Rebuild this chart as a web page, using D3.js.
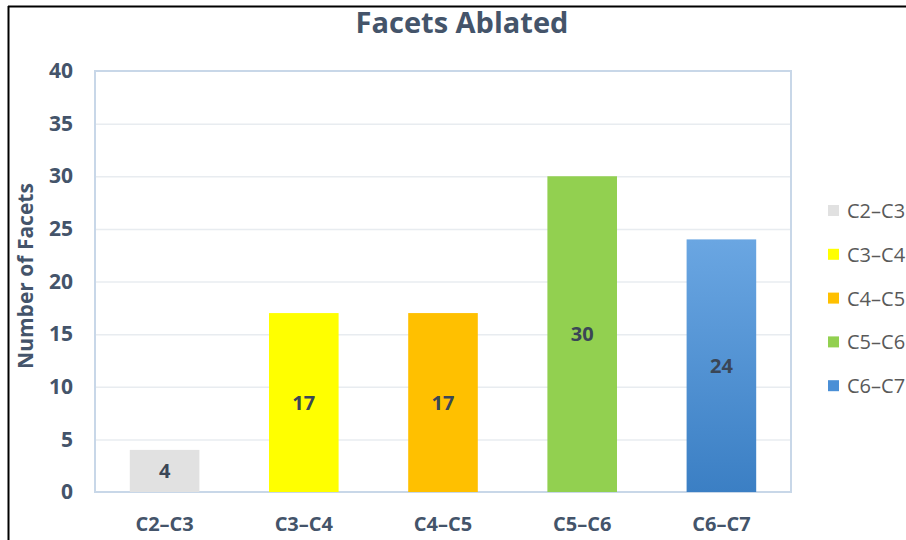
<!DOCTYPE html>
<html>
<head>
<meta charset="utf-8">
<script src="https://cdn.jsdelivr.net/npm/d3@7"></script>
<style>
  body { margin: 0; background: #fff; }
  svg { display: block; font-family: "Open Sans", Lato, sans-serif; }
</style>
</head>
<body>
<div id="chart"></div>
<script>
// chart data
const categories = ["C2\u2013C3", "C3\u2013C4", "C4\u2013C5", "C5\u2013C6", "C6\u2013C7"];
const facets = [4, 17, 17, 30, 24];
const yTicks = [0, 5, 10, 15, 20, 25, 30, 35, 40];

const colors = ["#e1e1e1", "#ffff00", "#ffc000", "#92d050", "url(#blueGrad)"];
const legendColors = ["#e1e1e1", "#ffff00", "#ffc000", "#92d050", "#4a8fd6"];

const width = 906, height = 540,
      margin = ({ top: 71, right: 115, bottom: 48, left: 95 });

let svg = d3.select("#chart")
    .append("svg")
    .attr("width", width)
    .attr("height", height);

// gradient for the last bar
let grad = svg.append("defs").append("linearGradient")
    .attr("id", "blueGrad")
    .attr("x1", 0).attr("y1", 0).attr("x2", 0).attr("y2", 1);
grad.append("stop").attr("offset", "0%").attr("stop-color", "#6aa6e2");
grad.append("stop").attr("offset", "100%").attr("stop-color", "#3b7fc4");

// outer frame lines (left & top)
svg.append("line").attr("x1", 8.5).attr("x2", 8.5).attr("y1", 6).attr("y2", height)
    .attr("stroke", "#000").attr("stroke-width", 2);
svg.append("line").attr("x1", 8).attr("x2", width).attr("y1", 6.5).attr("y2", 6.5)
    .attr("stroke", "#000").attr("stroke-width", 2);

let x = d3.scaleBand()
    .domain(categories)
    .range([margin.left, width - margin.right])
    .paddingInner(0.5)
    .paddingOuter(0.25);

let y = d3.scaleLinear()
    .domain([0, 40])
    .range([height - margin.bottom, margin.top]);

// gridlines
svg.append("g")
    .selectAll("line")
    .data(yTicks.filter(d => d > 0 && d < 40))
    .join("line")
    .attr("x1", margin.left)
    .attr("x2", width - margin.right)
    .attr("y1", d => y(d) + 0.5)
    .attr("y2", d => y(d) + 0.5)
    .attr("stroke", "#e8ecf0")
    .attr("stroke-width", 1.5);

// plot frame
svg.append("rect")
    .attr("x", margin.left)
    .attr("y", y(40))
    .attr("width", width - margin.right - margin.left)
    .attr("height", y(0) - y(40))
    .attr("fill", "none")
    .attr("stroke", "#c8d7e8")
    .attr("stroke-width", 2);

// y axis
let yAxis = svg.append("g")
    .attr("transform", `translate(${margin.left - 22},0)`)
    .call(d3.axisLeft(y).tickValues(yTicks).tickSize(0).tickPadding(0));
yAxis.select(".domain").remove();
yAxis.selectAll("text")
    .attr("font-size", 21)
    .attr("font-weight", "bold")
    .attr("font-family", "'Open Sans', sans-serif")
    .attr("fill", "#44546a");

// x axis
let xAxis = svg.append("g")
    .attr("transform", `translate(0,${height - margin.bottom + 25})`)
    .call(d3.axisBottom(x).tickSize(0).tickPadding(0));
xAxis.select(".domain").remove();
xAxis.selectAll("text")
    .attr("font-size", 20)
    .attr("font-weight", "bold")
    .attr("font-family", "'Open Sans', sans-serif")
    .attr("fill", "#44546a");

// bars
let bar = svg.selectAll(".bar")
    .data(categories.map((c, i) => ({ c, v: facets[i], i })))
    .join("g")
    .attr("class", "bar");

bar.append("rect")
    .attr("fill", d => colors[d.i])
    .attr("x", d => x(d.c))
    .attr("width", x.bandwidth())
    .attr("y", d => y(d.v))
    .attr("height", d => y(0) - y(d.v));

bar.append("text")
    .text(d => d.v)
    .attr("x", d => x(d.c) + x.bandwidth() / 2)
    .attr("y", d => (y(d.v) + y(0)) / 2)
    .attr("dy", "0.35em")
    .attr("text-anchor", "middle")
    .attr("font-size", 20)
    .attr("font-weight", "bold")
    .attr("fill", "#3a4656");

// title
svg.append("text")
    .text("Facets Ablated")
    .attr("x", 462)
    .attr("y", 33)
    .attr("text-anchor", "middle")
    .attr("font-size", 29)
    .attr("font-weight", "bold")
    .attr("fill", "#44546a");

// y axis title
svg.append("text")
    .text("Number of Facets")
    .attr("transform", `translate(33,276) rotate(-90)`)
    .attr("text-anchor", "middle")
    .attr("font-size", 21)
    .attr("font-weight", "bold")
    .attr("fill", "#44546a");

// legend
let legend = svg.append("g")
    .selectAll("g")
    .data(categories)
    .join("g")
    .attr("transform", (d, i) => `translate(828,${211 + i * 43.8})`);

legend.append("rect")
    .attr("x", 0)
    .attr("y", -6)
    .attr("width", 11)
    .attr("height", 11)
    .attr("fill", (d, i) => legendColors[i]);

legend.append("text")
    .text(d => d)
    .attr("x", 19)
    .attr("dy", "0.35em")
    .attr("font-size", 20)
    .attr("fill", "#595959");
</script>
</body>
</html>
